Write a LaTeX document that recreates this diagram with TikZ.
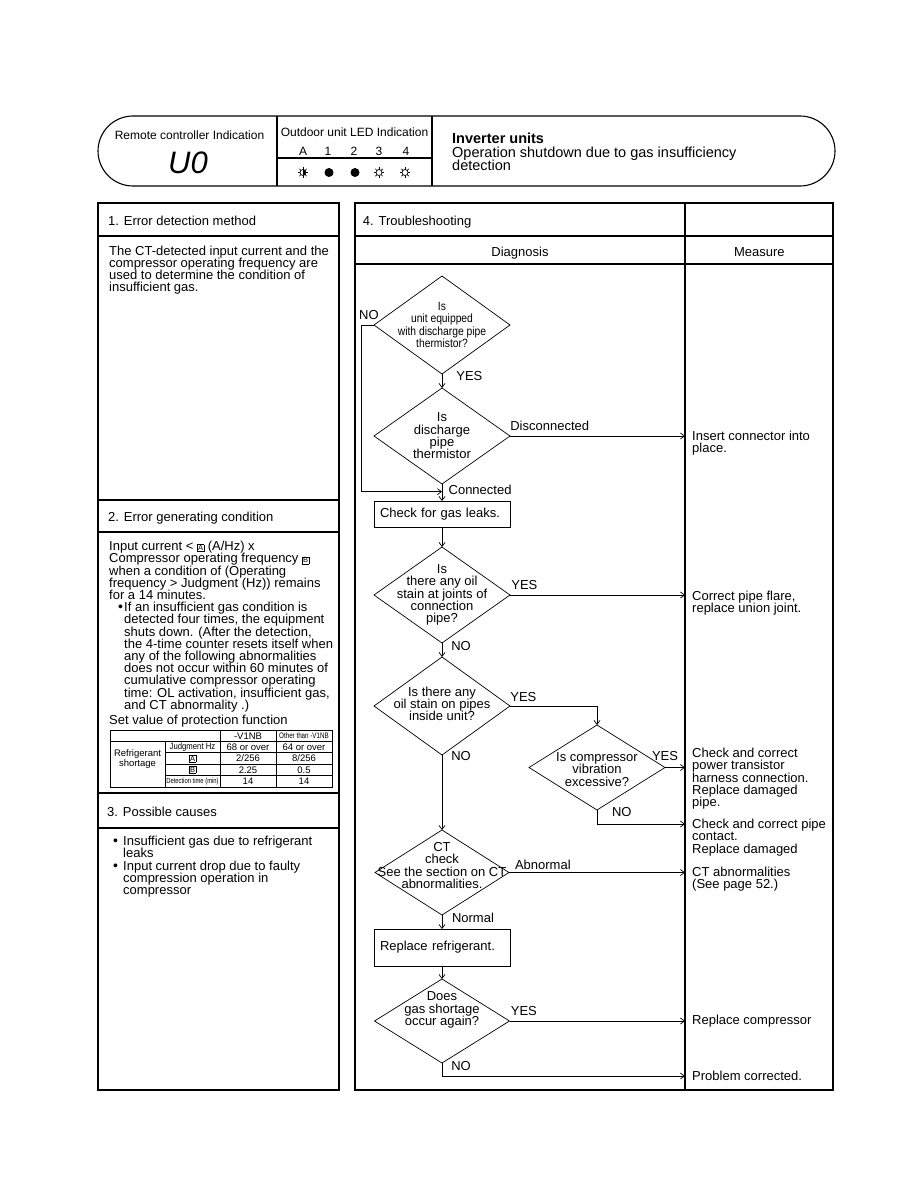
\documentclass[tikz,border=0pt]{standalone}
\usepackage{fontspec}
\setmainfont{Liberation Sans}
\newfontfamily\condfont[FakeStretch=0.78]{Liberation Sans}
\newfontfamily\narrowfont[FakeStretch=0.86]{Liberation Sans}
\usetikzlibrary{arrows.meta, positioning, shapes.geometric, calc}

\newcommand{\boxlet}[1]{{\setlength{\fboxsep}{0.7pt}\setlength{\fboxrule}{0.4pt}\fbox{\fontsize{7.5}{8}\selectfont #1}}}
\newcommand{\blt}[1][5pt]{\makebox[#1][l]{\raisebox{0pt}[0pt][0pt]{\fontsize{14}{12}\selectfont\textbullet}}}

\tikzset{
  frame/.style={line width=1.1pt},
  thinline/.style={line width=0.7pt},
  flow/.style={line width=0.7pt, -{Straight Barb[length=4pt,width=6pt]}},
  txt/.style={inner sep=0pt, align=left, font={\fontsize{13}{12.2}\selectfont\lineskiplimit=-20pt\relax}},
  lbl/.style={inner sep=0pt, font=\fontsize{13}{13}\selectfont},
  hdtext/.style={inner sep=0pt, font=\fontsize{12}{12}\selectfont},
  dec/.style={diamond, draw, thinline, minimum width=136pt, inner sep=0pt, outer sep=0pt},
  dtext/.style={inner sep=0pt, align=center, font={\fontsize{13}{12.3}\selectfont\lineskiplimit=-20pt\relax}},
  proc/.style={draw, thinline, minimum width=136pt, text width=124pt, inner sep=0pt, outer sep=0pt, align=left, font=\fontsize{13}{13}\selectfont},
  ledon/.style={circle, fill=black, minimum size=9pt, inner sep=0pt, outer sep=0pt},
  ledoff/.style={circle, draw, thinline, minimum size=6pt, inner sep=0pt, outer sep=0pt},
  tbl/.style={inner sep=0pt, font=\fontsize{9.5}{10}\selectfont},
  tblcond/.style={inner sep=0pt, font={\condfont\fontsize{8}{8}\selectfont}}
}

\begin{document}
\begin{tikzpicture}[x=1pt, y=-1pt]
\useasboundingbox (0,0) rectangle (918,1188);

% header band
\draw[frame, rounded corners=35pt] (98,116) rectangle (835,186);
\draw[frame] (277,116) -- (277,186) (432,116) -- (432,186);
\draw[frame] (277,158) -- (432,158);

\node[hdtext, anchor=base] (remote) at (189.5,139.3) {Remote controller Indication};
\node[inner sep=0pt, anchor=base, font=\fontsize{31}{31}\selectfont\itshape] (code) at (188,173.3) {U0};
\node[hdtext, anchor=base] (outdoor) at (354.5,136) {Outdoor unit LED Indication};
\foreach \x/\l in {303/A, 328/1, 354/2, 379/3, 406/4}
  \node[hdtext, anchor=base] (led\l name) at (\x,155.7) {\l};

% LED lamps
\node[ledoff] (ledA) at (303,172.5) {};
\node[ledon] (led1) at (329,172.5) {};
\node[ledon] (led2) at (355,172.5) {};
\node[ledoff] (led3) at (379,172.5) {};
\node[ledoff] (led4) at (405,172.5) {};
\foreach \n in {ledA, led3, led4}
  \foreach \a in {0,45,...,315}
    \draw[thinline] (\n.\a) -- ++(\a:2.2pt);
\fill (ledA.south) arc[start angle=-90, end angle=90, radius=3pt] -- cycle;

\node[inner sep=0pt, anchor=north west, align=left, font={\fontsize{14.5}{13.6}\selectfont}] (title) at (452,133)
  {\textbf{Inverter units}\\Operation shutdown due to gas insufficiency\\detection};

% left panel
\draw[frame] (98,203) rectangle (339,1090);
\foreach \y in {236,500,532,793,828}
  \draw[frame] (98,\y) -- (339,\y);

\node[lbl, anchor=base west] (sec1) at (108,225.7) {1. Error detection method};
\node[txt, anchor=north west] (method) at (109,245.5)
  {The CT-detected input current and the\\compressor operating frequency are\\used to determine the condition of\\insufficient gas.};

\node[lbl, anchor=base west] (sec2) at (108,521) {2. Error generating condition};
\node[txt, anchor=north west] (cond) at (109,541)
  {Input current < \boxlet{A} (A/Hz) x\\
   Compressor operating frequency \boxlet{B}\\
   when a condition of (Operating\\
   frequency > Judgment (Hz)) remains\\
   for a 14 minutes.\\
   \hspace*{9pt}\blt[6pt]If an insufficient gas condition is\\
   \hspace*{15pt}detected four times, the equipment\\
   \hspace*{15pt}shuts down.  (After the detection,\\
   \hspace*{15pt}the 4-time counter resets itself when\\
   \hspace*{15pt}any of the following abnormalities\\
   \hspace*{15pt}does not occur within 60 minutes of\\
   \hspace*{15pt}cumulative compressor operating\\
   \hspace*{15pt}time: OL activation, insufficient gas,\\
   \hspace*{15pt}and CT abnormality .)};
\node[lbl, anchor=base west] (setval) at (109,724) {Set value of protection function};

% protection table
\draw[thinline] (110,730) rectangle (332,787);
\draw[thinline] (110,741.5) -- (332,741.5);
\foreach \y in {752.8,764.2,775.6}
  \draw[thinline] (165,\y) -- (332,\y);
\draw[thinline] (165,741.5) -- (165,787);
\foreach \x in {220,276}
  \draw[thinline] (\x,730) -- (\x,787);
\node[tbl] (tv1) at (248,735.8) {-V1NB};
\node[tblcond] (tv2) at (304,735.8) {Other than -V1NB};
\node[tbl, align=center] (tref) at (137.5,759) {Refrigerant\\shortage};
\node[tbl, font={\narrowfont\fontsize{9}{9}\selectfont}] (tjudge) at (192.5,747.2) {Judgment Hz};
\node[tbl] (ta) at (192.5,758.5) {\boxlet{A}};
\node[tbl] (tb) at (192.5,769.9) {\boxlet{B}};
\node[tblcond, font={\condfont\fontsize{7.5}{8}\selectfont}] (tdet) at (192.5,781.3) {Detection time (min)};
\node[tbl] (t11) at (248,747.2) {68 or over};
\node[tbl] (t12) at (304,747.2) {64 or over};
\node[tbl] (t21) at (248,758.5) {2/256};
\node[tbl] (t22) at (304,758.5) {8/256};
\node[tbl] (t31) at (248,769.9) {2.25};
\node[tbl] (t32) at (304,769.9) {0.5};
\node[tbl] (t41) at (248,781.3) {14};
\node[tbl] (t42) at (304,781.3) {14};

\node[lbl, anchor=base west] (sec3) at (107,816.7) {3. Possible causes};
\node[txt, anchor=north west] (causes) at (113,836)
  {\blt[10pt]Insufficient gas due to refrigerant\\
   \hspace*{10pt}leaks\\
   \blt[10pt]Input current drop due to faulty\\
   \hspace*{10pt}compression operation in\\
   \hspace*{10pt}compressor};

% right panel
\draw[frame] (355,203) rectangle (833,1090);
\draw[frame] (685,203) -- (685,1090);
\draw[frame] (355,236) -- (833,236);
\draw[frame] (355,264) -- (833,264);
\coordinate (msrx) at (685,264);

\node[lbl, anchor=base west] (sec4) at (362.7,225.7) {4. Troubleshooting};
\node[lbl, anchor=base] (diag) at (520,256) {Diagnosis};
\node[lbl, anchor=base] (meas) at (759.3,256) {Measure};

% decisions and steps
\node[dec, minimum height=98pt, label={[dtext, font={\narrowfont\fontsize{12}{12.3}\selectfont\lineskiplimit=-20pt\relax}]center:{Is\\unit equipped\\with discharge pipe\\thermistor?}}] (unitq) at (442,325) {};
\node[dec, minimum height=96pt, label={[dtext]center:{Is\\discharge\\pipe\\thermistor}}] (thermq) at (442,436) {};
\node[proc, minimum height=26pt] (leakbox) at (442,514) {Check for gas leaks.};
\node[dec, minimum height=96pt, label={[dtext]center:{Is\\there any oil\\stain at joints of\\connection\\pipe?}}] (jointq) at (442,595) {};
\node[dec, minimum height=98pt, label={[dtext, yshift=2pt]center:{Is there any\\oil stain on pipes\\inside unit?}}] (insideq) at (442,706) {};
\node[dec, minimum height=85pt, label={[dtext, yshift=-2pt]center:{Is compressor\\vibration\\excessive?}}] (vibq) at (597,767.5) {};
\node[dec, minimum width=134pt, minimum height=85pt, label={[dtext, yshift=7pt]center:{CT\\check\\See the section on CT\\abnormalities.}}] (ctq) at (442,872.5) {};
\node[proc, minimum height=37pt] (refbox) at (442,947.5) {Replace refrigerant.};
\node[dec, minimum width=135pt, minimum height=84pt, label={[dtext, yshift=11pt]center:{Does\\gas shortage\\occur again?}}] (againq) at (442,1021) {};

\coordinate (jn) at ($(thermq.south)!0.45!(leakbox.north)$);
\coordinate (vibno) at (685,824);
\coordinate (againno) at (685,1076);

% measures
\node[txt, anchor=north west] (m1) at (692,431) {Insert connector into\\place.};
\node[txt, anchor=north west] (m2) at (692,591) {Correct pipe flare,\\replace union joint.};
\node[txt, anchor=north west] (m3) at (692,748) {Check and correct\\power transistor\\harness connection.\\Replace damaged\\pipe.};
\node[txt, anchor=north west] (m4) at (692,819) {Check and correct pipe\\contact.\\Replace damaged};
\node[txt, anchor=north west] (m5) at (692,867) {CT abnormalities\\(See page 52.)};
\node[txt, anchor=north west] (m6) at (692,1014.5) {Replace compressor};
\node[txt, anchor=north west] (m7) at (692,1070.5) {Problem corrected.};

% connectors
\draw[flow] (unitq.south) -- node[lbl, pos=0, anchor=base west, xshift=14pt, yshift=-6pt] {YES} (thermq.north);
\draw[flow] (unitq.west) -- node[lbl, pos=0, anchor=base east, xshift=5pt, yshift=6pt] {NO} ++(-13,0) |- (jn);
\draw[flow] (thermq.east) -- node[lbl, pos=0, anchor=base west, yshift=5.3pt] {Disconnected} (thermq.east -| msrx);
\draw[flow] (thermq.south) -- node[lbl, pos=0, anchor=base west, xshift=6.3pt, yshift=-10.3pt] {Connected} (leakbox.north);
\draw[flow] (leakbox.south) -- (jointq.north);
\draw[flow] (jointq.east) -- node[lbl, pos=0, anchor=base west, xshift=1pt, yshift=6pt] {YES} (jointq.east -| msrx);
\draw[flow] (jointq.south) -- node[lbl, pos=0, anchor=base west, xshift=9pt, yshift=-7pt] {NO} (insideq.north);
\draw[flow] (insideq.east) -| node[lbl, pos=0, anchor=base west, yshift=5pt] {YES} (vibq.north);
\draw[flow] (vibq.east) -- node[lbl, pos=0, anchor=base west, xshift=-13.3pt, yshift=6.8pt] {YES} (vibq.east -| msrx);
\draw[flow] (vibq.south) |- node[lbl, pos=0, anchor=base west, xshift=14.7pt, yshift=-6pt] {NO} (vibno);
\draw[flow] (insideq.south) -- node[lbl, pos=0, anchor=base west, xshift=9pt, yshift=-5.7pt] {NO} (ctq.north);
\draw[flow] (ctq.east) -- node[lbl, pos=0, anchor=base west, xshift=5.7pt, yshift=3.2pt] {Abnormal} (ctq.east -| msrx);
\draw[flow] (ctq.south) -- node[lbl, pos=0, anchor=base west, xshift=9.7pt, yshift=-7.7pt] {Normal} (refbox.north);
\draw[flow] (refbox.south) -- (againq.north);
\draw[flow] (againq.east) -- node[lbl, pos=0, anchor=base west, xshift=1pt, yshift=6pt] {YES} (againq.east -| msrx);
\draw[flow] (againq.south) |- node[lbl, pos=0, anchor=base west, xshift=9pt, yshift=-7pt] {NO} (againno);

\end{tikzpicture}
\end{document}
